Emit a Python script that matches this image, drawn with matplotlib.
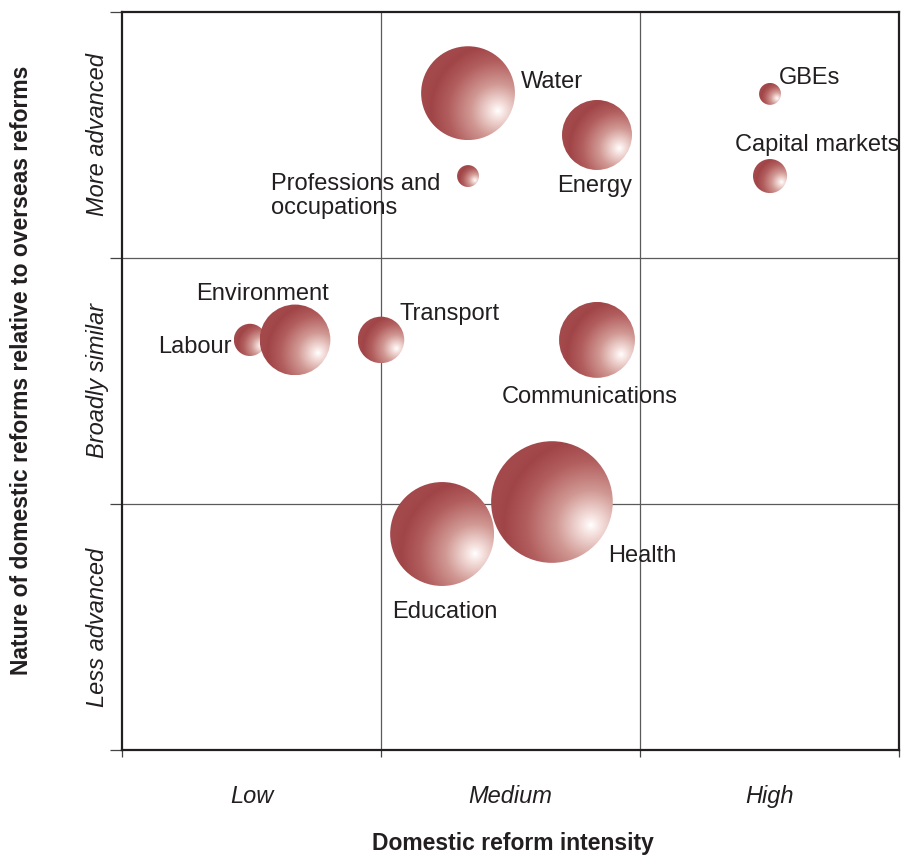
import numpy as np
import matplotlib
matplotlib.use("Agg")
import matplotlib.pyplot as plt
from matplotlib.patches import Ellipse
from matplotlib.colors import LinearSegmentedColormap

# ---------------- data ----------------
sectors = ["Water", "Energy", "Professions and\noccupations", "GBEs", "Capital markets",
           "Labour", "Environment", "Transport", "Communications", "Education", "Health"]
intensity = [1.336, 1.834, 1.336, 2.502, 2.502, 0.494, 0.668, 1.0, 1.834, 1.236, 1.66]
nature = [2.67, 2.50, 2.333, 2.667, 2.333, 1.667, 1.667, 1.667, 1.667, 0.878, 1.008]
sizes = [22.0, 12.25, 1.2, 1.2, 2.9, 2.6, 12.5, 5.4, 14.4, 27.0, 37.0]

x_tick_labels = ["Low", "Medium", "High"]
y_tick_labels = ["Less advanced", "Broadly similar", "More advanced"]

# label positions (data coords) and alignment
label_x = [1.541, 1.826, 0.575, 2.537, 2.368, 0.425, 0.286, 1.073, 1.467, 1.042, 1.876]
label_y = [2.715, 2.293, 2.252, 2.732, 2.459, 1.638, 1.854, 1.772, 1.435, 0.561, 0.789]
label_ha = ["left", "center", "left", "left", "left", "right", "left", "left", "left", "left", "left"]

TXT = "#231f20"
FONT = "Liberation Sans"
FS = 17

fig = plt.figure(figsize=(9.01, 8.55), dpi=100)
ax = fig.add_axes([0.1354, 0.1228, 0.8624, 0.8632])
ax.set_xlim(0, 3)
ax.set_ylim(0, 3)

pos = ax.get_position()
px_x = pos.width * fig.get_figwidth() * fig.dpi / 3.0
px_y = pos.height * fig.get_figheight() * fig.dpi / 3.0

# quadrant lines
for v in [1, 2]:
    ax.axvline(v, color="#5a5a5a", lw=0.9, zorder=1)
    ax.axhline(v, color="#5a5a5a", lw=0.9, zorder=1)

# sphere gradient
cmap = LinearSegmentedColormap.from_list(
    "sphere",
    [(0.0, (1.0, 1.0, 1.0)),
     (0.08, (0.97, 0.90, 0.89)),
     (0.35, (0.82, 0.60, 0.58)),
     (0.65, (0.70, 0.37, 0.37)),
     (0.88, (0.63, 0.27, 0.28)),
     (1.0, (0.64, 0.29, 0.30))])

N = 240
g = np.linspace(-1, 1, N)
GX, GY = np.meshgrid(g, g)
fx, fy = 0.64, -0.38
D = np.sqrt((GX - fx) ** 2 + (GY - fy) ** 2) / 1.62
D = np.clip(D, 0, 1)
RGB = cmap(D)

for i in range(len(sectors)):
    r = 10.0 * np.sqrt(sizes[i])
    rx = r / px_x
    ry = r / px_y
    cx, cy = intensity[i], nature[i]
    ell = Ellipse((cx, cy), 2 * rx, 2 * ry, facecolor="none", edgecolor="none",
                  transform=ax.transData, zorder=3 + i * 0.01)
    ax.add_patch(ell)
    im = ax.imshow(RGB, extent=(cx - rx, cx + rx, cy - ry, cy + ry), origin="lower",
                   interpolation="bilinear", zorder=3 + i * 0.01, aspect="auto")
    im.set_clip_path(ell)

ax.set_xlim(0, 3)
ax.set_ylim(0, 3)

for i, s in enumerate(sectors):
    ax.text(label_x[i], label_y[i], s, ha=label_ha[i], va="center", fontsize=FS,
            color=TXT, family=FONT, zorder=5, linespacing=1.1)

# spines
for sp in ax.spines.values():
    sp.set_color(TXT)
    sp.set_linewidth(1.6)

# ticks
ax.set_xticks([0, 1, 2, 3])
ax.set_yticks([0, 1, 2, 3])
ax.set_xticklabels([])
ax.set_yticklabels([])
ax.tick_params(axis="x", which="major", direction="out", length=5, width=0.9, color="#444444")
ax.tick_params(axis="y", which="major", direction="out", length=8.6, width=0.9, color="#444444")

ax.set_xticks([0.5, 1.5, 2.5], minor=True)
ax.set_xticklabels(x_tick_labels, minor=True, fontsize=FS, style="italic", family=FONT, color=TXT)
ax.tick_params(axis="x", which="minor", length=0, pad=25)

ax.set_yticks([0.5, 1.5, 2.5], minor=True)
ax.set_yticklabels(y_tick_labels, minor=True, fontsize=FS, style="italic",
                   family=["Liberation Sans Narrow", FONT], color=TXT,
                   rotation=90, va="center", ha="right")
ax.tick_params(axis="y", which="minor", length=0, pad=9)

fig.text(0.5694, 1 - 843 / 855, "Domestic reform intensity", ha="center", va="center",
         fontsize=16.5, fontweight="bold", family=FONT, color=TXT)
fig.text(22 / 901, 1 - 370 / 855, "Nature of domestic reforms relative to overseas reforms",
         ha="center", va="center", rotation=90, fontsize=16.5, fontweight="bold",
         family=["Liberation Sans Narrow", FONT], color=TXT)

fig.savefig("out.png", dpi=100)
